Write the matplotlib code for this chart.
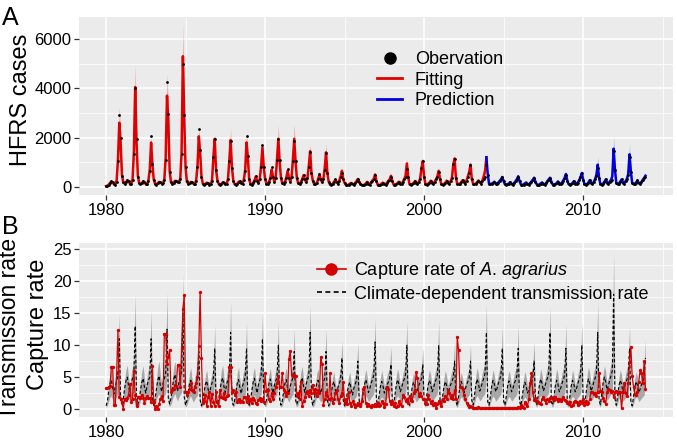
import numpy as np
import matplotlib
matplotlib.use("Agg")
import matplotlib.pyplot as plt
from matplotlib.lines import Line2D
from matplotlib.ticker import MultipleLocator

plt.rcParams['font.family'] = ['Liberation Sans', 'DejaVu Sans']
plt.rcParams['mathtext.fontset'] = 'custom'
plt.rcParams['mathtext.rm'] = 'Liberation Sans'
plt.rcParams['mathtext.it'] = 'Liberation Sans:italic'

years = np.arange(1980, 2014)
first_prediction_year = 2004

# monthly HFRS cases, Jan..Dec per row
hfrs_obs = [
    20, 40, 80, 150, 220, 180, 100, 90, 200, 1030, 2930, 1980,      # 1980
    445, 180, 120, 200, 280, 230, 120, 110, 280, 1330, 4000, 1950,  # 1981
    420, 160, 110, 150, 230, 200, 110, 100, 250, 650, 2050, 940,    # 1982
    280, 120, 90, 150, 200, 190, 130, 150, 260, 1100, 4250, 2950,   # 1983
    600, 200, 130, 160, 240, 250, 180, 200, 300, 1320, 5000, 2930,  # 1984
    820, 220, 120, 140, 200, 190, 110, 120, 240, 800, 2350, 1500,   # 1985
    420, 130, 80, 110, 170, 160, 90, 100, 250, 1230, 1950, 690,     # 1986
    250, 120, 80, 110, 180, 170, 100, 110, 300, 1030, 1850, 760,    # 1987
    250, 110, 80, 120, 200, 240, 150, 130, 280, 630, 2080, 1250,    # 1988
    300, 120, 90, 150, 250, 460, 250, 150, 300, 800, 1680, 820,     # 1989
    300, 130, 100, 200, 350, 820, 400, 200, 350, 1070, 1930, 1070,  # 1990
    350, 150, 120, 200, 350, 720, 350, 200, 400, 1050, 1850, 1050,  # 1991
    350, 150, 100, 180, 300, 480, 300, 180, 350, 800, 1430, 550,    # 1992
    250, 120, 100, 150, 300, 530, 300, 180, 300, 700, 1380, 550,    # 1993
    200, 100, 80, 120, 200, 300, 200, 120, 250, 400, 580, 300,      # 1994
    150, 80, 60, 80, 120, 150, 100, 80, 150, 220, 300, 200,         # 1995
    120, 70, 60, 80, 130, 200, 120, 80, 180, 250, 300, 480,         # 1996
    250, 70, 60, 80, 130, 170, 110, 80, 160, 230, 280, 420,         # 1997
    230, 80, 70, 100, 150, 200, 130, 100, 200, 300, 420, 730,       # 1998
    380, 100, 80, 100, 150, 230, 150, 120, 200, 320, 760, 1030,     # 1999
    380, 120, 90, 110, 160, 250, 170, 120, 200, 300, 400, 600,      # 2000
    300, 100, 80, 110, 160, 250, 170, 130, 220, 350, 930, 1140,     # 2001
    350, 130, 100, 120, 180, 260, 180, 130, 250, 400, 555, 880,     # 2002
    300, 120, 100, 120, 180, 250, 180, 130, 250, 300, 420, 900,     # 2003
    500, 120, 100, 120, 150, 200, 130, 100, 170, 230, 300, 390,     # 2004
    220, 100, 80, 100, 130, 180, 110, 90, 150, 220, 300, 420,       # 2005
    220, 90, 70, 90, 130, 170, 110, 90, 140, 210, 280, 350,         # 2006
    200, 90, 70, 90, 130, 170, 110, 90, 140, 220, 290, 350,         # 2007
    200, 90, 80, 100, 140, 210, 120, 100, 160, 250, 350, 500,       # 2008
    250, 100, 80, 100, 150, 220, 130, 100, 170, 260, 380, 550,      # 2009
    280, 110, 90, 110, 170, 260, 150, 110, 190, 300, 450, 760,      # 2010
    350, 120, 90, 120, 180, 300, 170, 120, 200, 250, 280, 1450,     # 2011
    690, 150, 100, 130, 200, 300, 170, 130, 220, 300, 490, 1230,    # 2012
    600, 150, 100, 120, 170, 260, 150, 110, 190, 280, 350, 420,     # 2013
]

hfrs_fit = [
    30, 50, 90, 160, 210, 170, 110, 100, 250, 1100, 2600, 1800,     # 1980
    500, 170, 130, 190, 260, 220, 130, 120, 300, 1400, 4050, 1850,  # 1981
    450, 150, 110, 150, 220, 190, 110, 110, 280, 700, 1800, 900,    # 1982
    300, 130, 100, 150, 200, 190, 140, 160, 300, 1200, 3700, 2700,  # 1983
    650, 190, 140, 170, 240, 240, 190, 210, 330, 1400, 5300, 2800,  # 1984
    800, 210, 130, 150, 200, 180, 120, 130, 260, 850, 2050, 1400,   # 1985
    430, 140, 90, 120, 170, 150, 100, 110, 280, 1200, 1950, 700,    # 1986
    280, 120, 90, 120, 180, 170, 110, 120, 320, 1050, 1900, 780,    # 1987
    270, 110, 90, 130, 200, 230, 150, 140, 300, 700, 1800, 1200,    # 1988
    300, 120, 100, 160, 260, 420, 250, 160, 320, 850, 1600, 800,    # 1989
    320, 140, 110, 210, 350, 700, 400, 220, 380, 1100, 1950, 1000,  # 1990
    360, 150, 120, 210, 360, 650, 360, 220, 420, 1100, 1950, 1000,  # 1991
    350, 150, 110, 190, 310, 470, 300, 190, 370, 850, 1450, 560,    # 1992
    260, 120, 110, 160, 300, 500, 300, 190, 320, 750, 1400, 560,    # 1993
    210, 100, 90, 130, 200, 290, 200, 130, 260, 420, 650, 300,      # 1994
    160, 80, 70, 90, 130, 160, 110, 90, 160, 230, 320, 200,         # 1995
    130, 70, 70, 90, 140, 200, 130, 90, 190, 260, 320, 500,         # 1996
    240, 80, 70, 90, 140, 170, 120, 90, 170, 240, 300, 450,         # 1997
    240, 90, 80, 110, 160, 210, 140, 110, 210, 320, 450, 950,       # 1998
    400, 100, 90, 110, 160, 230, 160, 130, 210, 330, 750, 1050,     # 1999
    400, 120, 100, 120, 170, 250, 170, 130, 210, 320, 420, 650,     # 2000
    310, 110, 90, 120, 170, 250, 180, 140, 230, 370, 900, 1150,     # 2001
    360, 130, 110, 130, 190, 270, 190, 140, 260, 420, 600, 900,     # 2002
    320, 130, 110, 130, 190, 260, 190, 140, 260, 430, 650, 1200,    # 2003
    520, 130, 110, 130, 160, 210, 140, 110, 180, 240, 300, 400,     # 2004
    230, 100, 90, 110, 140, 190, 120, 100, 160, 230, 310, 430,      # 2005
    230, 100, 80, 100, 140, 180, 120, 100, 150, 220, 290, 370,      # 2006
    210, 100, 80, 100, 140, 180, 120, 100, 150, 230, 300, 370,      # 2007
    210, 100, 90, 110, 150, 220, 130, 110, 170, 260, 360, 520,      # 2008
    260, 110, 90, 110, 160, 230, 140, 110, 180, 270, 390, 560,      # 2009
    290, 120, 100, 120, 180, 270, 160, 120, 200, 310, 480, 900,     # 2010
    360, 130, 100, 130, 190, 300, 180, 130, 210, 280, 420, 1550,    # 2011
    700, 160, 110, 140, 210, 300, 180, 140, 230, 320, 520, 1320,    # 2012
    620, 160, 110, 130, 180, 260, 160, 120, 200, 290, 360, 450,     # 2013
]

# ribbon limits relative to the fitted value, one per year
hfrs_band_up = [1.25, 1.23, 1.12, 1.24, 1.24, 1.17, 1.08, 1.24, 1.22, 1.12,
                1.28, 1.30, 1.20, 1.25, 1.20, 1.20, 1.20, 1.20, 1.18, 1.12,
                1.20, 1.15, 1.15, 1.10, 1.20, 1.20, 1.20, 1.20, 1.20, 1.20,
                1.35, 1.32, 1.30, 1.30]
hfrs_band_low = [0.80] * 34

capture_rate = [
    3.3, 3.3, 3.5, 3.6, 6.6, 6.6, 0.6, 0.7, 5.7, 12.3, 1.9, 1.5,   # 1980
    1.1, 0.0, 1.6, 1.4, 1.8, 2.2, 3.9, 1.1, 1.5, 5.9, 2.2, 0.4,    # 1981
    1.9, 1.9, 1.8, 2.2, 1.8, 0.9, 1.7, 2.0, 1.8, 1.7, 1.1, 6.8,    # 1982
    1.1, 0.0, 0.4, 0.0, 0.8, 1.5, 2.0, 1.2, 11.8, 11.8, 7.1, 8.2,  # 1983
    9.2, 2.6, 3.0, 3.2, 3.8, 3.6, 6.9, 6.9, 3.4, 9.6, 15.7, 17.8,  # 1984
    2.7, 2.2, 2.7, 3.2, 4.0, 3.0, 2.6, 3.4, 4.0, 5.0, 9.9, 18.3,   # 1985
    8.0, 0.9, 1.3, 2.2, 0.4, 1.9, 2.7, 0.4, 2.4, 1.1, 0.4, 2.7,    # 1986
    1.1, 0.4, 3.0, 1.9, 1.7, 2.5, 1.5, 2.0, 2.2, 6.6, 6.6, 2.7,    # 1987
    3.0, 2.2, 2.7, 1.1, 1.5, 1.1, 1.3, 1.1, 1.9, 1.9, 1.1, 2.0,    # 1988
    1.2, 1.6, 1.0, 1.8, 1.4, 1.0, 0.8, 1.4, 1.7, 1.2, 1.6, 1.1,    # 1989
    5.6, 2.8, 3.0, 1.5, 1.2, 2.5, 1.5, 2.5, 3.5, 4.0, 5.1, 3.5,    # 1990
    3.5, 5.6, 3.0, 2.7, 2.0, 2.5, 7.9, 9.1, 5.3, 5.1, 5.3, 5.1,    # 1991
    2.0, 2.5, 1.5, 4.3, 0.4, 1.2, 1.9, 2.5, 2.8, 2.0, 3.0, 2.5,    # 1992
    3.8, 2.5, 3.2, 2.0, 3.0, 2.5, 8.2, 7.1, 0.6, 1.5, 2.7, 2.0,    # 1993
    1.5, 5.6, 1.7, 1.0, 1.5, 2.5, 3.0, 1.5, 1.0, 2.0, 2.5, 4.3,    # 1994
    1.0, 1.5, 0.8, 2.7, 1.0, 0.5, 1.2, 0.8, 0.3, 0.6, 1.0, 0.8,    # 1995
    0.5, 1.3, 3.2, 3.5, 1.0, 0.4, 0.8, 0.5, 0.3, 0.6, 0.4, 0.8,    # 1996
    0.5, 1.0, 0.4, 0.6, 1.2, 1.0, 0.3, 0.8, 3.5, 3.2, 1.2, 0.8,    # 1997
    1.2, 0.5, 1.0, 0.3, 0.5, 1.2, 0.8, 0.5, 2.2, 1.9, 1.2, 1.5,    # 1998
    1.0, 2.0, 1.5, 1.2, 2.5, 3.0, 5.8, 4.8, 2.0, 2.5, 2.0, 1.5,    # 1999
    1.5, 1.0, 0.8, 2.2, 1.5, 1.0, 1.2, 0.6, 1.0, 0.1, 0.8, 1.2,    # 2000
    1.0, 0.5, 1.5, 1.2, 2.0, 1.5, 3.0, 2.5, 1.8, 2.2, 1.5, 3.0,    # 2001
    1.5, 11.3, 9.2, 3.5, 3.5, 3.2, 2.2, 1.5, 1.0, 0.6, 0.3, 0.4,   # 2002
    0.3, 0.1, 0.2, 0.1, 0.1, 0.3, 0.1, 0.1, 0.1, 0.2, 0.1, 0.1,    # 2003
    0.1, 0.1, 0.1, 0.1, 0.1, 0.1, 0.1, 0.1, 0.1, 0.1, 0.1, 0.1,    # 2004
    0.1, 0.1, 0.1, 0.1, 0.1, 0.1, 0.1, 0.1, 0.1, 0.1, 0.1, 0.3,    # 2005
    0.1, 0.6, 0.3, 0.2, 1.1, 0.8, 0.5, 1.5, 4.0, 5.6, 2.7, 1.4,    # 2006
    1.7, 1.2, 1.1, 1.0, 0.8, 1.5, 1.9, 1.4, 1.0, 1.5, 1.2, 1.7,    # 2007
    1.9, 1.6, 1.4, 1.9, 1.5, 1.2, 1.6, 1.3, 1.5, 1.9, 1.4, 1.2,    # 2008
    1.0, 0.8, 1.1, 0.4, 0.6, 1.1, 1.3, 1.1, 0.6, 0.8, 1.2, 1.0,    # 2009
    1.5, 0.6, 1.2, 0.8, 1.0, 1.6, 2.7, 2.7, 2.4, 2.5, 2.0, 2.7,    # 2010
    5.7, 2.8, 2.6, 1.7, 1.2, 0.8, 2.7, 3.2, 3.0, 2.7, 2.8, 1.9,    # 2011
    2.7, 2.8, 2.5, 2.7, 2.6, 0.1, 2.7, 4.0, 2.5, 2.0, 4.0, 7.4,    # 2012
    9.7, 5.1, 3.5, 2.4, 2.2, 2.7, 4.3, 6.1, 5.6, 4.0, 7.5, 3.2,    # 2013
]

transmission_rate = [
    0.5, 1.2, 2.8, 4.0, 4.6, 3.2, 2.4, 3.6, 4.4, 5.2, 11.0, 1.6,   # 1980
    0.8, 1.6, 3.2, 4.4, 5.0, 3.6, 2.6, 4.0, 4.8, 5.6, 13.0, 1.8,   # 1981
    0.7, 1.4, 3.0, 4.2, 4.8, 3.4, 2.5, 3.7, 4.5, 5.0, 11.0, 1.5,   # 1982
    0.6, 1.5, 3.1, 4.5, 5.2, 3.6, 2.7, 4.0, 4.8, 5.5, 12.5, 1.7,   # 1983
    0.8, 1.7, 3.3, 4.6, 5.4, 3.8, 2.8, 4.2, 5.0, 5.8, 15.0, 1.9,   # 1984
    0.6, 1.3, 2.8, 4.0, 4.5, 3.2, 2.4, 3.5, 4.2, 4.8, 9.0, 1.4,    # 1985
    0.5, 1.2, 2.7, 3.9, 4.4, 3.1, 2.3, 3.4, 4.1, 4.9, 9.5, 1.4,    # 1986
    0.7, 1.5, 3.0, 4.3, 4.9, 3.5, 2.6, 3.9, 4.6, 5.4, 12.0, 1.6,   # 1987
    0.6, 1.3, 2.8, 4.0, 4.6, 3.3, 2.4, 3.6, 4.3, 5.0, 9.5, 1.5,    # 1988
    0.6, 1.4, 2.9, 4.2, 4.8, 3.4, 2.5, 3.8, 4.5, 5.2, 11.0, 1.6,   # 1989
    0.7, 1.4, 2.9, 4.1, 4.7, 3.3, 2.5, 3.7, 4.4, 5.0, 10.0, 1.5,   # 1990
    0.6, 1.3, 2.8, 4.0, 4.6, 3.2, 2.4, 3.6, 4.3, 4.9, 9.0, 1.4,    # 1991
    0.7, 1.5, 3.0, 4.3, 4.9, 3.5, 2.6, 3.9, 4.6, 5.3, 12.0, 1.6,   # 1992
    0.6, 1.3, 2.8, 4.0, 4.5, 3.2, 2.4, 3.5, 4.2, 4.8, 9.0, 1.4,    # 1993
    0.5, 1.2, 2.6, 3.8, 4.3, 3.0, 2.3, 3.4, 4.0, 4.6, 8.0, 1.3,    # 1994
    0.5, 1.2, 2.6, 3.7, 4.2, 3.0, 2.2, 3.3, 3.9, 4.5, 7.5, 1.3,    # 1995
    0.6, 1.0, 2.4, 3.8, 4.6, 3.8, 2.6, 3.2, 4.0, 4.6, 5.3, 10.5,   # 1996
    1.4, 0.6, 2.0, 3.5, 4.3, 3.6, 2.5, 3.0, 3.8, 4.2, 4.8, 7.0,    # 1997
    1.1, 0.6, 2.2, 3.8, 4.6, 3.9, 2.7, 3.3, 4.1, 4.7, 5.4, 10.0,   # 1998
    1.3, 0.6, 1.9, 3.4, 4.2, 3.6, 2.5, 3.0, 3.7, 4.2, 4.7, 7.0,    # 1999
    1.2, 0.6, 2.1, 3.7, 4.5, 3.9, 2.7, 3.2, 4.0, 4.6, 5.3, 10.0,   # 2000
    1.3, 0.6, 2.0, 3.5, 4.3, 3.7, 2.6, 3.1, 3.8, 4.3, 4.9, 7.5,    # 2001
    1.2, 0.5, 1.9, 3.5, 4.3, 3.7, 2.5, 3.0, 3.8, 4.3, 4.9, 7.5,    # 2002
    1.3, 0.6, 2.1, 3.8, 4.7, 4.0, 2.8, 3.4, 4.2, 4.8, 5.6, 12.0,   # 2003
    1.1, 0.6, 2.0, 3.6, 4.5, 3.9, 2.7, 3.2, 4.0, 4.6, 5.3, 9.5,    # 2004
    1.2, 0.6, 2.0, 3.6, 4.4, 3.8, 2.7, 3.2, 4.0, 4.5, 5.2, 9.5,    # 2005
    1.2, 0.5, 1.9, 3.4, 4.2, 3.6, 2.5, 3.0, 3.7, 4.2, 4.8, 7.5,    # 2006
    1.4, 0.6, 2.1, 3.8, 4.7, 4.0, 2.8, 3.4, 4.2, 4.8, 5.6, 12.0,   # 2007
    1.1, 0.6, 2.0, 3.6, 4.5, 3.9, 2.7, 3.2, 4.0, 4.6, 5.3, 9.5,    # 2008
    1.2, 0.6, 2.0, 3.6, 4.5, 3.9, 2.7, 3.2, 4.0, 4.6, 5.3, 10.0,   # 2009
    1.3, 0.6, 2.1, 3.8, 4.7, 4.0, 2.8, 3.4, 4.2, 4.8, 5.6, 12.0,   # 2010
    1.4, 0.7, 2.3, 4.0, 5.0, 4.3, 3.0, 3.6, 4.5, 5.2, 6.0, 18.0,   # 2011
    1.6, 0.6, 2.0, 3.6, 4.5, 3.9, 2.7, 3.2, 4.0, 4.6, 5.3, 9.5,    # 2012
    1.1, 0.5, 1.9, 3.5, 4.3, 3.7, 2.6, 3.1, 3.8, 4.3, 4.9, 8.0,    # 2013
]

trans_band_up = [1.36, 1.38, 1.41, 1.46, 1.40, 1.43, 1.38, 1.40, 1.42, 1.36,
                 1.36, 1.40, 1.36, 1.40, 1.35, 1.37, 1.35, 1.39, 1.37, 1.36,
                 1.37, 1.40, 1.33, 1.37, 1.36, 1.37, 1.40, 1.34, 1.39, 1.35,
                 1.40, 1.36, 1.37, 1.36]
trans_band_low = [0.45] * 34

# time axis: one point per month
t = np.repeat(years, 12) + np.tile(np.arange(12), len(years)) / 12.0
obs = np.array(hfrs_obs, dtype=float)
fit = np.array(hfrs_fit, dtype=float)
fit_hi = fit * np.repeat(hfrs_band_up, 12)
fit_lo = fit * np.repeat(hfrs_band_low, 12)
cap = np.array(capture_rate)
trans = np.array(transmission_rate)
trans_hi = trans * np.repeat(trans_band_up, 12)
trans_lo = trans * np.repeat(trans_band_low, 12)
split = int(np.searchsorted(t, first_prediction_year))


def style(ax):
    ax.set_facecolor('#EBEBEB')
    for s in ax.spines.values():
        s.set_visible(False)
    ax.grid(which='major', color='white', lw=1.1)
    ax.grid(which='minor', color='white', lw=0.55)
    ax.set_axisbelow(True)
    ax.tick_params(which='major', length=3.5, width=0.9, color='#333333',
                   labelsize=12, labelcolor='black', pad=2)
    ax.tick_params(which='minor', length=0)
    ax.set_xlim(1978.3, 2015.65)
    ax.xaxis.set_major_locator(MultipleLocator(10))
    ax.xaxis.set_minor_locator(MultipleLocator(5))


fig = plt.figure(figsize=(6.77, 4.4), dpi=100)
W, H = 677.0, 440.0
axA = fig.add_axes([79 / W, 1 - 195 / H, 594 / W, 178 / H])
axB = fig.add_axes([79 / W, 1 - 417 / H, 594 / W, 174 / H])

# panel A
style(axA)
axA.fill_between(t[:split], fit_lo[:split], fit_hi[:split], color='#FF2020', alpha=0.38, lw=0)
axA.fill_between(t[split - 1:], fit_lo[split - 1:], fit_hi[split - 1:], color='#3030FF', alpha=0.32, lw=0)
axA.plot(t[:split], fit[:split], color='#E00000', lw=1.8)
axA.plot(t[split - 1:], fit[split - 1:], color='#0000E0', lw=1.8)
axA.plot(t, obs, 'o', color='black', ms=2.0, mew=0, zorder=4)
axA.set_ylim(-330, 6890)
axA.yaxis.set_major_locator(MultipleLocator(2000))
axA.yaxis.set_minor_locator(MultipleLocator(1000))

handlesA = [Line2D([], [], ls='none', marker='o', color='black', ms=8),
            Line2D([], [], color='#E00000', lw=2),
            Line2D([], [], color='#0000E0', lw=2)]
axA.legend(handlesA, ['Obervation', 'Fitting', 'Prediction'],
           loc='upper left', bbox_to_anchor=(377 / W, 1 - 51 / H),
           bbox_transform=fig.transFigure, frameon=False, fontsize=13,
           handlelength=1.4, handletextpad=0.7, labelspacing=0.2,
           borderpad=0, borderaxespad=0)

# panel B
style(axB)
axB.fill_between(t, trans_lo, trans_hi, color='#A0A0A0', alpha=0.9, lw=0)
axB.plot(t, trans, color='black', lw=0.8, ls=(0, (3, 2)))
axB.plot(t, cap, color='#D40000', lw=0.9, marker='o', ms=2.4, mew=0)
axB.set_ylim(-1.25, 26.0)
axB.yaxis.set_major_locator(MultipleLocator(5))
axB.yaxis.set_minor_locator(MultipleLocator(2.5))

handlesB = [Line2D([], [], color='#D40000', lw=1.2, marker='o', ms=8),
            Line2D([], [], color='black', lw=1.2, ls=(0, (3, 2)))]
axB.legend(handlesB, [r'Capture rate of $\it{A.\,agrarius}$',
                      'Climate-dependent transmission rate'],
           loc='upper left', bbox_to_anchor=(317 / W, 1 - 260 / H),
           bbox_transform=fig.transFigure, frameon=False, fontsize=13,
           handlelength=1.6, handletextpad=0.45, labelspacing=0.25,
           borderpad=0, borderaxespad=0)

fig.text(21 / W, 1 - 100 / H, 'HFRS cases', rotation=90, ha='center', va='center', fontsize=17)
fig.text(10 / W, 1 - 328 / H, 'Transmission rate', rotation=90, ha='center', va='center', fontsize=16.5)
fig.text(38 / W, 1 - 324 / H, 'Capture rate', rotation=90, ha='center', va='center', fontsize=17)
fig.text(2 / W, 1 - 25 / H, 'A', fontsize=18, va='baseline', ha='left')
fig.text(2 / W, 1 - 234 / H, 'B', fontsize=18, va='baseline', ha='left')

fig.savefig('out.png', dpi=100)
